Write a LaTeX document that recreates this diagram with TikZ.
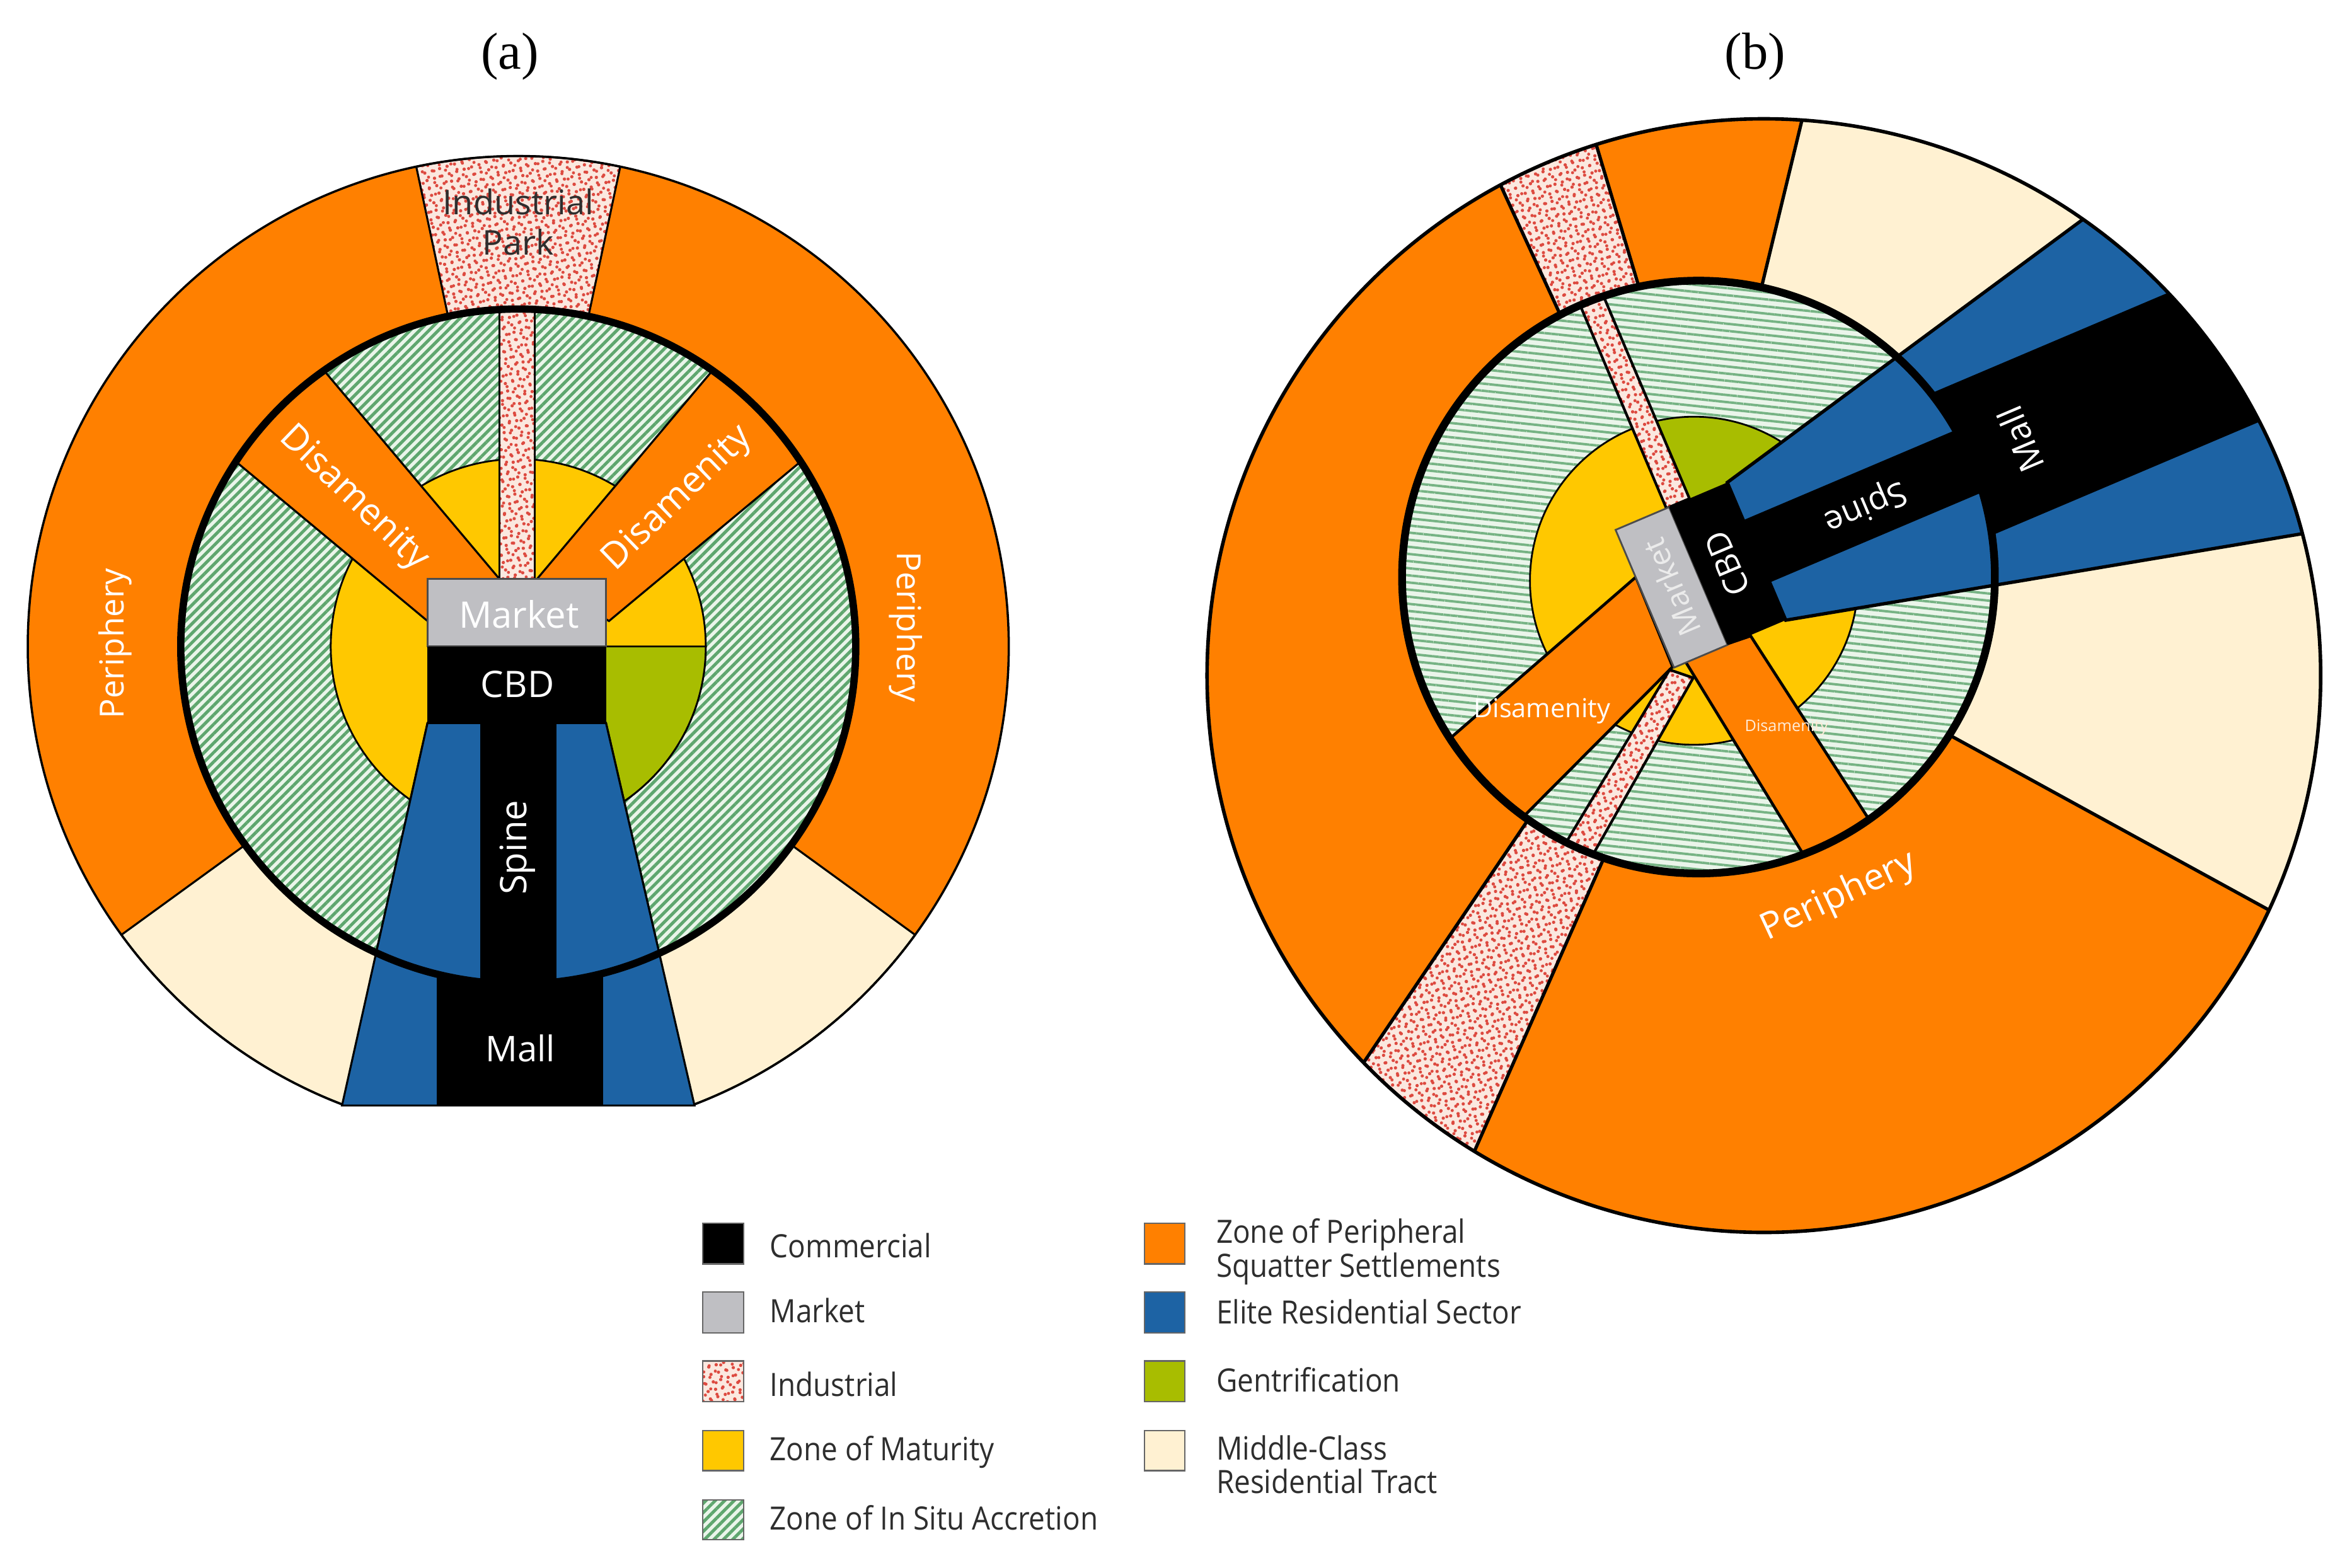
\documentclass[tikz,border=0pt]{standalone}
\usepackage{fontspec}
\usepackage{graphicx}
\setmainfont{Open Sans}
\newfontfamily\serifr{Liberation Serif}
\newfontfamily\legfont[FakeStretch=0.9]{Open Sans}
\usetikzlibrary{patterns.meta}
\definecolor{orng}{HTML}{FF8000}
\definecolor{cream}{HTML}{FFF1D2}
\definecolor{eliteblue}{HTML}{1D63A4}
\definecolor{mktgray}{HTML}{BFBFC3}
\definecolor{matyellow}{HTML}{FFC800}
\definecolor{gentgreen}{HTML}{A8BD00}
\definecolor{hatchline}{HTML}{5EA66E}
\definecolor{hatchbg}{HTML}{EAF5EA}
\definecolor{indbg}{HTML}{FBE8DF}
\definecolor{inddot}{HTML}{DD4A40}
\definecolor{txtgray}{HTML}{2E2E2E}
\newcommand\myfs[1]{\fontsize{#1}{#1}\selectfont}
\tikzset{
 indus/.style={preaction={fill=indbg},
   preaction={pattern={Dots[radius=0.75pt,distance=3.5pt,angle=17]},pattern color=inddot},
   preaction={pattern={Dots[radius=0.7pt,distance=3.7pt,angle=-41,xshift=1.3pt,yshift=0.6pt]},pattern color=inddot}},
 hatchA/.style={preaction={fill=hatchbg},preaction={pattern={Lines[angle=45,distance=3.0pt,line width=1.4pt]},pattern color=hatchline}},
 hatchB/.style={preaction={fill=hatchbg},preaction={pattern={Lines[angle=-6,distance=3.2pt,line width=1.1pt]},pattern color=hatchline!85!white}},
 lbl/.style={text=white, inner sep=0pt},
 legbox/.style={draw=black!60, line width=0.6pt},
 legtxt/.style={anchor=west, inner sep=0pt, text=txtgray, font=\legfont\myfs{14.5}},
 thin/.style={draw=black, line width=0.9pt},
}
\begin{document}
\begin{tikzpicture}[x=0.0238cm,y=-0.0238cm]
\useasboundingbox (0,0) rectangle (1568,1045);
\fill[white] (0,0) rectangle (1568,1045);

% ---------- titles
\node[font=\serifr\myfs{23.5}, inner sep=0pt] (ta) at (340,37.8) {(a)};
\node[font=\serifr\myfs{23.5}, inner sep=0pt] (tb) at (1170,37.8) {(b)};

% ================= (a) =================
\coordinate (Ca) at (345.5,431);
\begin{scope}
 \clip (0,60) rectangle (700,737);
 \fill[orng] (Ca) circle[radius=327];
 \path[fill=cream, thin] (Ca) -- ++(36:327) arc[start angle=36,end angle=144,radius=327] -- cycle;
 \path[indus, thin] (Ca) -- ++(258:327) arc[start angle=258,end angle=282,radius=327] -- cycle;
 \draw[line width=1pt] (Ca) circle[radius=327];
\end{scope}
\path[hatchA] (Ca) circle[radius=225];
\begin{scope}
 \clip (Ca) circle[radius=225];
 \path[fill=matyellow, draw=black, line width=0.8pt] (Ca) circle[radius=125];
 \path[fill=gentgreen, draw=black, line width=0.8pt] (Ca) -- ++(0:125) arc[start angle=0,end angle=90,radius=125] -- cycle;
 \path[fill=orng, thin] (333,386) -- (185.7,211) -- (120.9,277.5) -- (285,414) -- cycle;
 \path[fill=orng, thin] (358,386) -- (505.3,211) -- (570.1,277.5) -- (406,414) -- cycle;
 \path[indus, thin] (333,150) -- (356.5,150) -- (356.5,386) -- (333,386) -- cycle;
\end{scope}
\path[fill=eliteblue, thin] (285,482) -- (404,482) -- (463,737) -- (228,737) -- cycle;
\fill[black] (291,560) rectangle (402,737);
\begin{scope}
 \clip (Ca) circle[radius=225];
 \path[fill=eliteblue, thin] (285,482) -- (404,482) -- (463,737) -- (228,737) -- cycle;
 \fill[black] (320,482) rectangle (371,700);
\end{scope}
\path[fill=mktgray, draw=black!70, line width=0.8pt] (285,386) rectangle (404,431);
\fill[black] (285,431) rectangle (404,482);
\draw[line width=3.3pt] (Ca) circle[radius=225];

\node[lbl, rotate=90, font=\myfs{15}] (perAL) at (77,429) {Periphery};
\node[lbl, rotate=-90, font=\myfs{15}] (perAR) at (604,418) {Periphery};
\node[lbl, rotate=-44, font=\myfs{16.5}] (disAL) at (235.7,332.6) {Disamenity};
\node[lbl, rotate=44, font=\myfs{16.5}] (disAR) at (452,332.6) {Disamenity};
\node[lbl, font=\myfs{16.5}] (mktA) at (346,409.5) {Market};
\node[lbl, font=\myfs{16.5}] (cbdA) at (345,456) {CBD};
\node[lbl, rotate=90, font=\myfs{16.5}] (spA) at (345,565) {Spine};
\node[lbl, font=\myfs{16}] (mallA) at (347,699) {Mall};
\node[inner sep=0pt, align=center, text=txtgray, font=\fontsize{15.4}{18}\selectfont] (indA) at (345.5,148) {Industrial\\Park};

% ================= (b) =================
\begin{scope}[shift={(798.3,63)}, scale=0.4904]
 \fill[orng] (770,790) circle[radius=757];
 \begin{scope}
  \clip (770,790) circle[radius=757];
  \path[fill=cream, draw=black, line width=1.5pt] (760,290) -- (835,-20) -- (1700,-20) -- (1700,1230) -- (1576,1174) -- (988,852) -- cycle;
  \begin{scope}[shift={(760,621)}, rotate=23]
   \path[fill=eliteblue, draw=black, line width=1.5pt] (0,-101.7) -- (1100,-365.7) -- (1100,365.7) -- (0,101.7) -- cycle;
   \fill[black] (250,-105) -- (1100,-105) -- (1100,105) -- (250,105) -- cycle;
  \end{scope}
 \end{scope}
\end{scope}
\begin{scope}
 \clip (1175.9,450.4) circle[radius=371.2];
 \path[indus, draw=black, line width=1.5pt] (1043.0,216.0) -- (1095.0,199.3) -- (1058.2,76.7) -- (991.5,104.2) -- cycle;
 \path[indus, draw=black, line width=1.5pt] (1029.5,530.6) -- (1078.1,551.9) -- (957.2,825.8) -- (880.2,751.0) -- cycle;
\end{scope}
\draw[line width=1.6pt] (1175.9,450.4) circle[radius=371.2];
\path[hatchB] (1132.3,384.7) circle[radius=197.6];
\begin{scope}
 \clip (1132.3,384.7) circle[radius=197.6];
 \begin{scope}[shift={(798.3,63)}, scale=0.4904]
  \fill[matyellow] (675,661) circle[radius=223];
  \begin{scope}
   \clip (675,661) circle[radius=223];
   \begin{scope}[shift={(760,621)}, rotate=23]
    \fill[gentgreen] (-56,-101.7) -- (-56,-600) -- (700,-600) -- (700,-269.7) -- (0,-101.7) -- cycle;
   \end{scope}
  \end{scope}
  \draw[line width=0.8pt] (675,661) circle[radius=223];
  \path[fill=orng, draw=black, line width=1.3pt] (596,656) -- (300,913) -- (400,1025) -- (646,778) -- cycle;
  \path[fill=orng, draw=black, line width=1.3pt] (661,767) -- (752,736) -- (930,1012) -- (845,1068) -- cycle;
  \begin{scope}[shift={(760,621)}, rotate=23]
   \path[fill=eliteblue, draw=black, line width=1.5pt] (0,-101.7) -- (1100,-365.7) -- (1100,365.7) -- (0,101.7) -- cycle;
   \fill[black] (0,-46) -- (700,-46) -- (700,46) -- (0,46) -- cycle;
  \end{scope}
 \end{scope}
 \path[indus, draw=black, line width=1.2pt] (1110.9,338.9) -- (1126.3,332.4) -- (1021.2,84.9) -- (1005.8,91.4) -- cycle;
 \path[indus, draw=black, line width=1.2pt] (1113.1,446.5) -- (1128.8,451.9) -- (1042.0,604.9) -- (1023.4,596.1) -- cycle;
\end{scope}
\begin{scope}[shift={(798.3,63)}, scale=0.4904]
 \begin{scope}[shift={(760,621)}, rotate=23]
  \path[fill=mktgray, draw=black!70, line width=0.8pt] (-165,-101.7) -- (-86,-101.7) -- (-86,101.7) -- (-165,101.7) -- cycle;
  \fill[black] (-86,-101.7) -- (0,-101.7) -- (0,101.7) -- (-86,101.7) -- cycle;
 \end{scope}
\end{scope}
\draw[line width=3.5pt] (1132.3,384.7) circle[radius=197.6];

\node[lbl, rotate=113, font=\myfs{14}, text=white!92!black] (mktB) at (1114.4,391.6) {Market};
\node[lbl, rotate=113, font=\myfs{15}] (cbdB) at (1151.6,375.8) {CBD};
\node[lbl, rotate=203, font=\myfs{15}] (spB) at (1243.2,336.9) {Spine};
\node[lbl, rotate=113, font=\myfs{15.5}] (mallB) at (1347.1,292.9) {Mall};
\node[lbl, font=\myfs{11.8}] (disBL) at (1028,474) {Disamenity};
\node[lbl, font=\myfs{7.2}, text=white!85!orng] (disBR) at (1191,485) {Disamenity};
\node[lbl, rotate=25, font=\myfs{16.6}] (perB) at (1226,598) {Periphery};

% ================= legend =================
\path[fill=black, legbox] (468.4,815.4) rectangle (495.6,842.6);
\path[fill=mktgray, legbox] (468.4,861.3) rectangle (495.6,888.6);
\path[indus, legbox] (468.4,907.3) rectangle (495.6,934.5);
\path[fill=matyellow, legbox] (468.4,953.9) rectangle (495.6,980.4);
\path[hatchA, legbox] (468.4,999.8) rectangle (495.6,1026.3);
\path[fill=orng, legbox] (763,815.4) rectangle (790,842.6);
\path[fill=eliteblue, legbox] (763,861.3) rectangle (790,888.6);
\path[fill=gentgreen, legbox] (763,907.3) rectangle (790,934.5);
\path[fill=cream, legbox] (763,953.9) rectangle (790,980.4);

\node[legtxt] (l1) at (513,830.2) {Commercial};
\node[legtxt] (l2) at (513,873.8) {Market};
\node[legtxt] (l3) at (513,922.7) {Industrial};
\node[legtxt] (l4) at (513,968) {Zone of Maturity};
\node[legtxt] (l5) at (513,1012) {Zone of In Situ Accretion};
\node[legtxt] (l6a) at (810.6,823.2) {Zone of Peripheral};
\node[legtxt] (l6b) at (810.6,845.8) {Squatter Settlements};
\node[legtxt] (l7) at (810.6,874.6) {Elite Residential Sector};
\node[legtxt] (l8) at (810.6,919.7) {Gentrification};
\node[legtxt] (l9a) at (810.6,965.2) {Middle-Class};
\node[legtxt] (l9b) at (810.6,987.4) {Residential Tract};
\end{tikzpicture}
\end{document}
